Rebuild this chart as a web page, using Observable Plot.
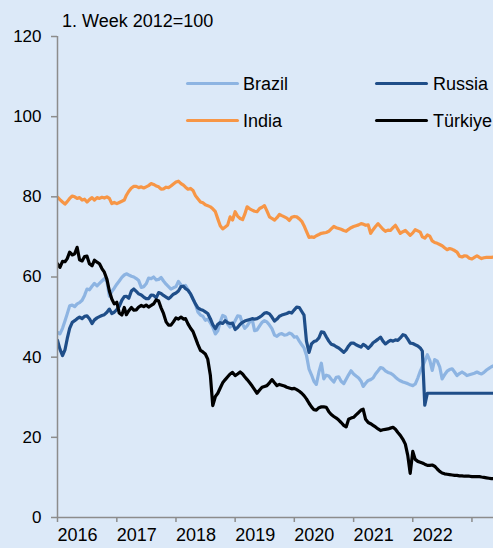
<!DOCTYPE html>
<html>
<head>
<meta charset="utf-8">
<script src="https://cdn.jsdelivr.net/npm/d3@7"></script>
<script src="https://cdn.jsdelivr.net/npm/@observablehq/plot@0.6"></script>
<style>
html, body { margin: 0; padding: 0; background: #dce9f8; }
#wrap { position: relative; width: 493px; height: 548px; overflow: hidden; background: #dce9f8;
  font-family: "Liberation Sans", Arial, sans-serif; color: #000; }
#title { position: absolute; left: 62px; top: 12px; font-size: 18px; line-height: 18px; white-space: nowrap; }
.sw { position: absolute; height: 3px; width: 53px; }
.lt { position: absolute; font-size: 18px; line-height: 18px; white-space: nowrap; }
#chart { position: absolute; left: 0; top: 0; }
</style>
</head>
<body>
<div id="wrap">
  <div id="chart"></div>
  <div id="title">1. Week 2012=100</div>
  <div id="legend"></div>
</div>
<script>
// Half-monthly observations (1st and 16th of each month), Jan 2016 – mid May 2023, index 1. week 2012 = 100
const brazil = [
46.2,45.8,47.2,49.0,50.8,52.8,53.0,52.6,53.3,53.6,54.2,55.4,57.0,56.8,57.7,58.4,57.8,58.4,59.0,59.6,58.9,55.2,56.4,57.2,
58.2,59.0,59.9,60.5,60.8,60.5,60.2,60.0,59.6,59.1,57.4,57.6,58.3,59.7,59.6,60.0,59.3,59.4,59.9,59.0,58.2,57.6,57.0,57.3,
57.6,58.9,58.0,57.6,57.9,56.8,55.7,54.5,53.2,51.3,50.5,50.2,49.2,49.5,48.6,47.5,45.8,46.6,48.8,50.4,50.1,48.2,47.5,48.0,
49.1,50.3,50.2,48.2,47.2,47.8,48.8,49.5,46.6,46.8,47.8,48.7,49.1,48.8,48.0,47.1,45.5,45.2,45.7,45.9,45.5,45.6,46.0,45.8,
45.0,45.1,44.0,43.1,42.3,40.5,37.0,35.6,34.0,33.2,36.3,38.5,34.6,35.5,35.3,34.5,33.8,35.0,35.1,34.0,33.4,34.5,35.6,36.6,
35.8,35.3,34.8,34.0,32.7,33.5,34.2,34.4,34.8,35.8,36.6,37.4,37.2,36.6,36.2,36.0,35.6,35.0,34.5,34.1,33.8,33.6,33.4,33.1,
32.9,33.3,34.8,36.5,37.6,39.0,40.6,39.2,36.7,39.4,39.0,37.6,34.6,35.6,36.5,36.9,37.1,36.3,35.4,35.9,36.3,35.9,35.4,35.6,
35.8,36.0,36.3,36.0,35.8,36.2,36.8,37.2,37.6,37.9
];
const russia = [
44.2,42.0,40.4,41.8,44.6,47.2,48.7,49.1,49.6,50.0,49.6,50.2,50.3,49.6,48.4,49.3,49.8,50.1,50.4,50.6,51.2,52.0,50.9,51.2,
51.9,52.7,54.2,55.1,55.2,54.7,56.5,57.0,56.4,55.8,55.5,55.0,54.6,54.6,55.5,55.4,54.8,56.1,55.9,55.4,55.0,54.6,55.1,55.7,
56.0,56.5,57.6,57.7,57.1,56.7,55.8,54.5,53.3,52.3,51.9,51.7,51.3,50.9,49.6,48.1,47.1,48.2,48.6,48.4,49.1,48.6,48.4,48.5,
46.9,47.4,48.2,48.7,49.0,49.2,49.4,49.6,49.5,49.6,50.0,50.4,51.0,51.1,50.8,50.0,49.0,49.5,50.2,50.5,50.7,50.9,51.2,51.0,
51.8,52.5,52.4,51.4,50.5,44.0,41.2,43.3,43.9,44.1,44.8,46.3,46.2,45.1,44.0,43.2,43.0,42.6,42.3,41.8,41.2,41.8,42.8,43.5,
43.5,43.1,42.8,42.5,43.2,42.8,42.2,42.8,43.6,44.0,44.5,45.0,44.0,43.3,43.8,44.2,44.0,44.3,44.2,44.8,45.6,45.4,44.5,43.5,
43.4,43.1,42.8,42.3,41.5,28.0,31.0,31.0,31.0,31.0,31.0,31.0,31.0,31.0,31.0,31.0,31.0,31.0,31.0,31.0,31.0,31.0,31.0,31.0,
31.0,31.0,31.0,31.0,31.0,31.0,31.0,31.0,31.0,31.0
];
const india = [
79.9,79.3,78.7,78.2,78.8,79.6,80.2,80.0,79.6,79.8,79.2,79.4,78.7,79.3,79.8,79.2,79.8,79.6,79.9,79.7,80.0,79.6,78.3,78.6,
78.3,78.6,78.9,79.2,80.4,81.4,82.2,82.6,82.6,82.3,82.5,82.2,82.5,82.8,83.3,83.1,82.7,82.5,81.9,82.0,82.4,82.3,82.7,83.2,
83.7,83.9,83.3,82.9,82.4,81.9,82.1,81.6,80.3,79.5,78.7,78.5,78.0,77.8,77.5,77.0,76.3,74.5,72.8,72.0,72.5,73.0,75.0,74.2,
76.3,75.2,74.6,74.3,75.6,77.5,77.0,76.7,76.4,76.3,77.1,77.4,77.8,76.5,75.0,74.6,74.2,74.8,75.6,75.3,75.0,74.7,74.1,74.9,
75.1,75.0,74.5,73.9,72.8,71.4,69.9,70.0,69.9,70.3,70.6,70.9,71.0,71.1,71.4,72.0,72.6,72.3,72.1,71.9,71.6,71.4,71.9,72.3,
72.6,72.8,73.0,73.3,73.2,72.9,73.0,70.9,71.8,72.6,73.3,72.6,71.9,71.4,71.7,71.6,72.3,72.9,71.9,70.9,71.3,71.6,71.0,70.4,
71.0,71.8,71.5,71.2,70.0,69.7,70.5,70.2,69.0,68.6,68.4,68.1,67.8,67.3,66.8,67.1,66.9,66.6,66.2,65.2,65.0,65.3,65.2,64.7,
64.5,64.9,65.3,64.9,64.6,64.8,64.9,64.9,64.9,65.0
];
const turkiye = [
63.3,62.4,63.9,63.8,64.6,66.2,65.5,65.8,67.4,64.3,64.0,65.1,65.2,63.3,62.8,64.2,63.7,63.3,62.1,61.2,59.4,56.5,54.5,53.3,
53.7,51.0,50.5,52.4,50.6,51.6,52.4,51.7,51.8,52.5,52.9,52.6,53.0,52.5,52.9,53.3,54.3,54.0,52.3,50.9,48.8,48.0,48.0,48.8,
49.8,49.5,50.0,49.5,49.6,48.3,47.2,46.4,44.8,43.2,41.7,41.3,40.8,39.5,35.5,27.9,30.2,31.0,32.3,33.6,34.4,35.1,35.8,36.2,
35.4,35.8,36.3,35.8,35.1,34.4,33.6,32.8,31.9,31.0,31.8,32.5,32.7,32.9,33.6,34.4,33.6,32.9,33.2,33.0,32.8,32.5,32.3,32.1,
32.2,31.9,31.5,31.0,30.4,29.6,28.5,27.6,26.9,26.8,27.4,27.6,27.6,27.5,26.4,25.7,25.2,24.8,24.3,23.7,23.0,22.6,24.5,24.8,
25.0,25.6,26.2,26.8,27.0,24.5,23.7,23.4,23.0,22.6,22.1,21.7,21.9,22.0,22.1,22.3,22.5,22.0,21.2,20.5,19.5,18.3,15.5,11.0,
16.5,14.5,14.0,13.8,13.6,13.3,13.0,13.0,13.1,12.8,12.1,11.5,11.1,10.9,10.8,10.7,10.6,10.5,10.5,10.4,10.4,10.3,10.3,10.3,
10.2,10.2,10.2,10.2,10.1,10.0,9.9,9.8,9.7,9.7
];
const seriesNames = ["Brazil", "Russia", "India", "Türkiye"];
const seriesColors = ["#8db4e2", "#1f4e89", "#f79646", "#000000"];
const yTicks = [0, 20, 40, 60, 80, 100, 120];
const yearLabels = ["2016", "2017", "2018", "2019", "2020", "2021", "2022"];
const tickYears = [2016, 2017, 2018, 2019, 2020, 2021, 2022, 2023];

const dates = d3.range(brazil.length).map(i => new Date(Date.UTC(2016, Math.floor(i / 2), i % 2 ? 16 : 1)));
const allSeries = [brazil, russia, india, turkiye];
const tickDates = tickYears.map(y => new Date(Date.UTC(y, 0, 1)));
const axisColor = "#8c8c8c";

const lineMarks = allSeries.map((vals, k) =>
  Plot.line(vals, {x: (d, i) => dates[i], y: d => d, stroke: seriesColors[k], strokeWidth: 3.2,
    strokeLinejoin: "round", strokeLinecap: "round", clip: true})
);

const chart = Plot.plot({
  width: 493,
  height: 548,
  marginLeft: 57,
  marginRight: 0,
  marginTop: 36,
  marginBottom: 31,
  style: {background: "transparent", fontFamily: "'Liberation Sans', Arial, sans-serif", fontSize: "18px", color: "#000", overflow: "visible"},
  x: {type: "utc", domain: [new Date(Date.UTC(2016, 0, 1)), new Date(Date.UTC(2023, 4, 14))]},
  y: {domain: [0, 120]},
  marks: [
    Plot.axisY({ticks: yTicks, tickSize: 6, tickPadding: 10, stroke: axisColor, strokeWidth: 1.5, fill: "#000", label: null, fontSize: 17}),
    Plot.axisX({ticks: tickDates, tickSize: 5, tickFormat: () => "", stroke: axisColor, strokeWidth: 1.5, label: null}),
    Plot.text(yearLabels, {x: d => new Date(Date.UTC(+d, 0, 1)), text: d => d, frameAnchor: "bottom", dy: 23, dx: 0, textAnchor: "start", fill: "#000", fontSize: 18}),
    ...lineMarks,
    Plot.ruleX([new Date(Date.UTC(2016, 0, 1))], {stroke: axisColor, strokeWidth: 1.5}),
    Plot.ruleY([0], {stroke: axisColor, strokeWidth: 1.5})
  ]
});
document.getElementById("chart").appendChild(chart);

// legend
const legendPos = [
  {sw: [186, 82], tx: [243, 75]},
  {sw: [375, 82], tx: [433, 75]},
  {sw: [186, 119], tx: [243, 112]},
  {sw: [375, 119], tx: [433, 112]}
];
const legend = document.getElementById("legend");
seriesNames.forEach((name, k) => {
  const sw = document.createElement("div");
  sw.className = "sw";
  sw.style.left = legendPos[k].sw[0] + "px";
  sw.style.top = legendPos[k].sw[1] + "px";
  sw.style.background = seriesColors[k];
  sw.style.borderRadius = "1.5px";
  legend.appendChild(sw);
  const t = document.createElement("div");
  t.className = "lt";
  t.style.left = legendPos[k].tx[0] + "px";
  t.style.top = legendPos[k].tx[1] + "px";
  t.textContent = name;
  legend.appendChild(t);
});
</script>
</body>
</html>
